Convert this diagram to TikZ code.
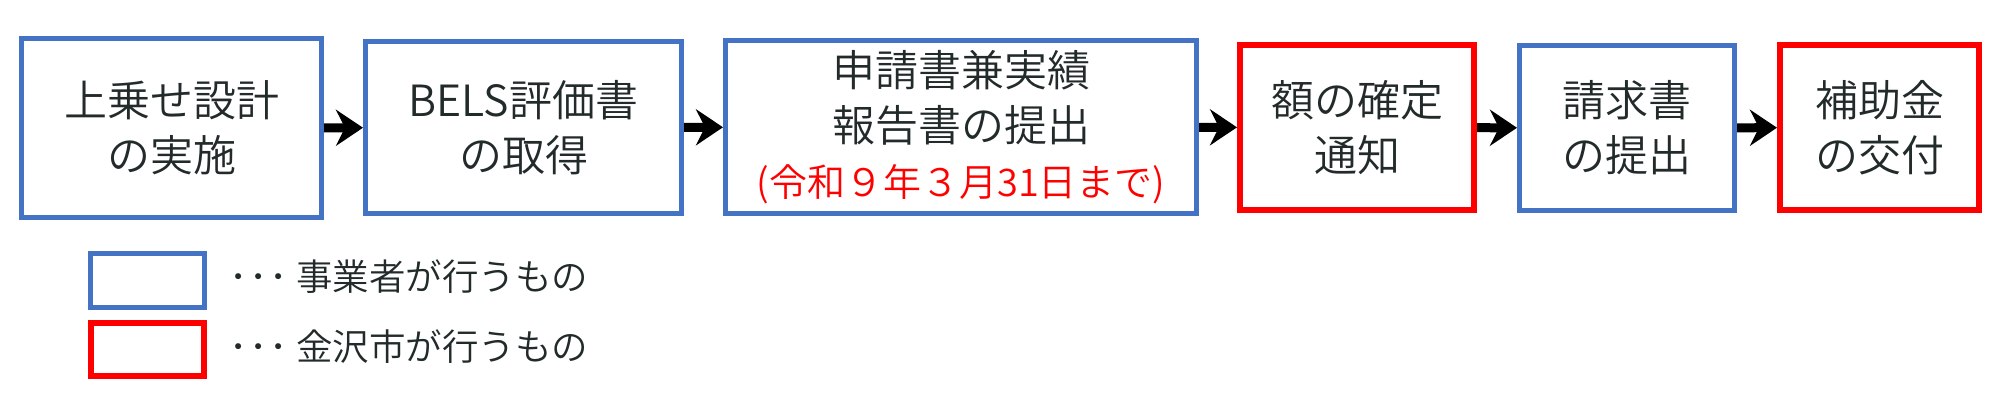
\documentclass[tikz,border=0pt]{standalone}
\usepackage{fontspec}
\setmainfont{Noto Sans CJK JP DemiLight}
\usetikzlibrary{arrows.meta}
\definecolor{bblue}{HTML}{4472C4}
\definecolor{rred}{HTML}{FF0000}
\definecolor{txt}{HTML}{222A2A}
\newcommand\mainfs{\fontsize{43pt}{55pt}\selectfont}
\newcommand\legfs{\fontsize{36.5pt}{44pt}\selectfont}
\tikzset{
  box/.style={draw, fill=white, inner sep=0pt, align=center, text=txt, font=\mainfs},
  bluebox/.style={box, draw=bblue, line width=5pt},
  redbox/.style={box, draw=rred, line width=6pt},
  flow/.style={line width=9pt, draw=black, -{Stealth[length=27pt,width=36pt,inset=9pt]}},
  legtext/.style={inner sep=0pt, text=txt, font=\legfs, anchor=west},
}
\begin{document}
\begin{tikzpicture}[x=1pt,y=-1pt]
\useasboundingbox[fill=white] (0,0) rectangle (2000,418);
\node[bluebox, minimum width=300pt, minimum height=179pt] (b1) at (171.5,128) {上乗せ設計\\の実施};
\node[bluebox, minimum width=316pt, minimum height=172pt] (b2) at (523.5,127.5) {BELS評価書\\の取得};
\node[bluebox, minimum width=471pt, minimum height=173pt] (b3) at (961,127) {申請書兼実績\\報告書の提出\\{\color{rred}\fontsize{38pt}{53pt}\selectfont (令和９年３月31日まで)}};
\node[redbox, minimum width=234pt, minimum height=165pt] (b4) at (1357,127.5) {額の確定\\通知};
\node[bluebox, minimum width=215pt, minimum height=165pt] (b5) at (1627,128) {請求書\\の提出};
\node[redbox, minimum width=199pt, minimum height=165pt] (b6) at (1879.5,127.5) {補助金\\の交付};
\draw[flow] (b1) -- (b2);
\draw[flow] (b2) -- (b3);
\draw[flow] (b3) -- (b4);
\draw[flow] (b4) -- (b5);
\draw[flow] (b5) -- (b6);
\node[bluebox, minimum width=114pt, minimum height=54pt] (lb) at (147.5,280.5) {};
\node[redbox, minimum width=113pt, minimum height=53pt] (lr) at (147.5,349.5) {};
\node[legtext] (lbt) at (229,277) {･\kern2pt･\kern2pt･ 事業者が行うもの};
\node[legtext] (lrt) at (229,347) {･\kern2pt･\kern2pt･ 金沢市が行うもの};
\end{tikzpicture}
\end{document}
